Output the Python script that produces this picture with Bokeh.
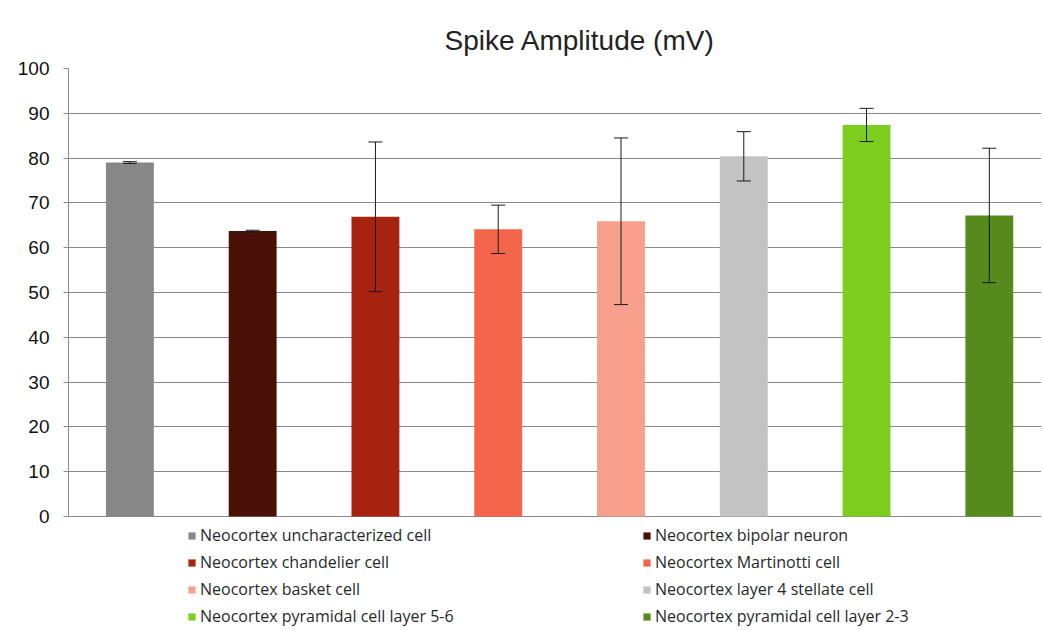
from bokeh.plotting import figure
from bokeh.models import (ColumnDataSource, Range1d, Whisker, TeeHead, Legend,
                          LegendItem, FixedTicker)
from bokeh.embed import file_html
from bokeh.resources import INLINE

categories = [
    "Neocortex uncharacterized cell",
    "Neocortex bipolar neuron",
    "Neocortex chandelier cell",
    "Neocortex Martinotti cell",
    "Neocortex basket cell",
    "Neocortex layer 4 stellate cell",
    "Neocortex pyramidal cell layer 5-6",
    "Neocortex pyramidal cell layer 2-3",
]
means = [79.0, 63.7, 66.9, 64.1, 65.9, 80.4, 87.4, 67.2]
errors = [0.2, 0.2, 16.7, 5.4, 18.6, 5.5, 3.7, 15.0]
colors = ["#878787", "#4a1109", "#a8230f", "#f4654c",
          "#f7a08b", "#c3c3c3", "#7ccd1e", "#578a1c"]
y_ticks = [0, 10, 20, 30, 40, 50, 60, 70, 80, 90, 100]

idx = list(range(len(categories)))
src = ColumnDataSource(dict(
    x=idx, top=means,
    lower=[m - e for m, e in zip(means, errors)],
    upper=[m + e for m, e in zip(means, errors)],
    color=colors, label=categories,
))

# frame spans the legend area too; the value axis is bounded to 0..100
p = figure(width=1041, height=628, x_range=Range1d(-0.5, 7.425),
           y_range=Range1d(-25.0, 100), output_backend="svg",
           toolbar_location=None, min_border_left=68, min_border_right=0,
           min_border_top=68, min_border_bottom=0,
           title="Spike Amplitude (mV)")

r = p.vbar(x="x", top="top", width=0.39, source=src, fill_color="color",
           line_color=None)

w = Whisker(source=src, base="x", upper="upper", lower="lower",
            line_color="#1a1a1a", line_width=1, level="overlay",
            upper_head=TeeHead(size=14, line_color="#1a1a1a", line_width=1),
            lower_head=TeeHead(size=14, line_color="#1a1a1a", line_width=1))
p.add_layout(w)

p.title.text_font = "Liberation Sans"
p.title.text_font_size = "28px"
p.title.text_font_style = "normal"
p.title.text_color = "#222222"
p.title.align = "left"
p.title.offset = 376
p.title.standoff = 25

p.outline_line_color = None
p.xaxis.visible = False
p.xgrid.visible = False
p.ygrid.grid_line_color = "#8a8a8a"
p.ygrid.grid_line_width = 1

p.yaxis.ticker = FixedTicker(ticks=y_ticks)
p.yaxis.bounds = (0, 100)
p.yaxis.axis_line_color = "#8a8a8a"
p.yaxis.major_tick_line_color = "#8a8a8a"
p.yaxis.major_tick_out = 5
p.yaxis.major_tick_in = 0
p.yaxis.minor_tick_out = 0
p.yaxis.minor_tick_in = 0
p.yaxis.major_label_text_font = "Liberation Sans"
p.yaxis.major_label_text_font_size = "19px"
p.yaxis.major_label_text_color = "#111111"
p.yaxis.major_label_standoff = 14

# legend columns fill top-to-bottom: left column, then right column
legend_order = [0, 2, 4, 6, 1, 3, 5, 7]
items = [LegendItem(label=categories[i], renderers=[r], index=i)
         for i in legend_order]
legend = Legend(items=items, ncols=2, location=(119, 1),
                label_text_font="Open Sans", label_text_font_size="16px",
                label_text_color="#1f2a2a",
                glyph_width=9, glyph_height=9, label_height=19,
                label_width=437, label_standoff=4, spacing=5,
                padding=0, margin=0, border_line_alpha=0,
                background_fill_alpha=0)
p.add_layout(legend, "center")

open("out.html", "w").write(file_html(p, INLINE))
